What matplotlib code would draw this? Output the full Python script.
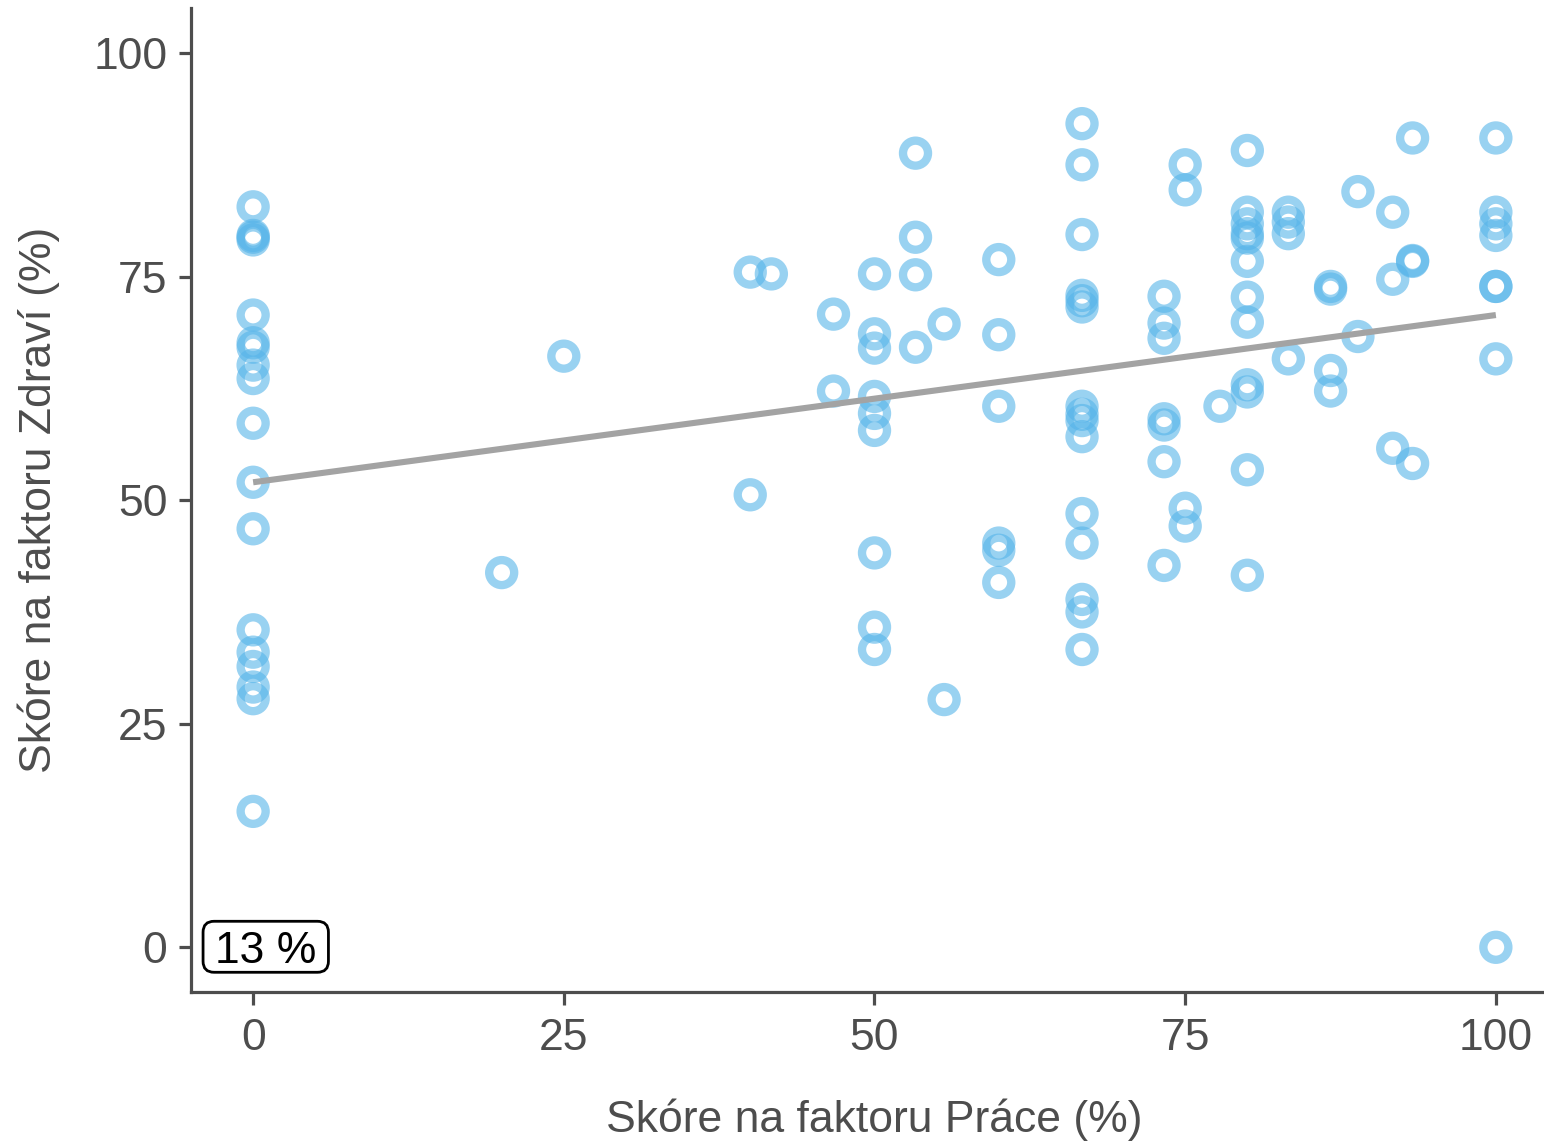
import numpy as np
import matplotlib
matplotlib.use('Agg')
import matplotlib.pyplot as plt
from matplotlib.patches import FancyBboxPatch
from matplotlib.transforms import IdentityTransform

plt.rcParams['font.family'] = ['Liberation Sans', 'DejaVu Sans']

# score pairs, grouped by Práce value
prace_levels = [0, 20, 25, 40, 41.7, 46.7, 50, 53.3, 55.6, 60, 66.7, 73.3, 75, 77.8,
                80, 83.3, 86.7, 88.9, 91.7, 93.3, 100]
zdravi_groups = [
    [82.8, 79.6, 79.1, 79.4, 70.7, 67.6, 67.1, 65.1, 63.6, 58.6, 52.0, 46.8, 35.5, 33.0,
     31.4, 29.1, 27.8, 15.2],
    [41.9],
    [66.1],
    [75.5, 50.6],
    [75.3],
    [70.8, 62.2],
    [75.3, 68.6, 67.0, 61.6, 59.7, 57.8, 44.1, 35.8, 33.3],
    [88.8, 79.4, 75.2, 67.1],
    [69.7, 27.7],
    [76.9, 68.5, 60.5, 45.2, 44.4, 40.8],
    [92.1, 87.5, 79.7, 72.9, 72.3, 71.6, 60.5, 59.6, 58.9, 57.1, 48.5, 45.2, 38.9, 37.5, 33.3],
    [72.8, 69.8, 68.1, 59.1, 58.4, 54.3, 42.7],
    [87.5, 84.7, 49.1, 47.1],
    [60.5],
    [89.1, 82.2, 80.9, 79.8, 79.3, 76.7, 72.7, 69.9, 62.9, 62.1, 53.4, 41.6],
    [82.2, 81.1, 79.8, 65.8],
    [73.9, 73.6, 64.5, 62.2],
    [84.5, 68.3],
    [82.2, 74.7, 55.8],
    [90.5, 76.8, 76.7, 54.1],
    [90.5, 82.2, 80.9, 79.6, 73.9, 73.9, 65.8, 0.0],
]
# linear trend as drawn in the chart (end points)
trend_x = [0, 100]
trend_y = [52.0, 70.7]
ticks = [0, 25, 50, 75, 100]
annotation = "13 %"

prace = np.concatenate([[lvl] * len(g) for lvl, g in zip(prace_levels, zdravi_groups)])
zdravi = np.concatenate(zdravi_groups)

grey = '#4d4d4d'
fig = plt.figure(figsize=(15.44, 11.42), dpi=100)
ax = fig.add_axes([191 / 1544, 150 / 1142, 1367 / 1544, 983.7 / 1142])

ax.scatter(prace, zdravi, s=18 ** 2, facecolors='none', edgecolors='#56B4E9',
           linewidths=6.0, alpha=0.6, zorder=2)

ax.plot(trend_x, trend_y, color='#a3a3a3', lw=4.4, zorder=3, solid_capstyle='butt')

ax.set_xlim(-5, 105)
ax.set_ylim(-5, 105)
ax.set_xticks(ticks)
ax.set_yticks(ticks)

for side in ['top', 'right']:
    ax.spines[side].set_visible(False)
for side in ['left', 'bottom']:
    ax.spines[side].set_color(grey)
    ax.spines[side].set_linewidth(2.3)
ax.tick_params(axis='both', colors=grey, labelcolor=grey, length=9, width=2.3,
               labelsize=32)
ax.tick_params(axis='x', pad=10)
ax.tick_params(axis='y', pad=8)

ax.set_xlabel('Skóre na faktoru Práce (%)', fontsize=32, color=grey, labelpad=28)
ax.set_ylabel('Skóre na faktoru Zdraví (%)', fontsize=32, color=grey, labelpad=24)

# label in the lower-left corner, box drawn around the glyphs with wider side padding
label = ax.text(0.0176, 0.0, annotation, transform=ax.get_yaxis_transform(),
                fontsize=32, color='black', ha='left', va='center_baseline', zorder=6)
fig.canvas.draw()
bb = label.get_window_extent(renderer=fig.canvas.get_renderer())
pad_x, pad_top, pad_bottom = 12, 10, 0
box = FancyBboxPatch((bb.x0 - pad_x, bb.y0 - pad_bottom),
                     bb.width + 2 * pad_x, bb.height + pad_top + pad_bottom,
                     boxstyle='round,pad=0,rounding_size=11', transform=IdentityTransform(),
                     fc='white', ec='black', lw=2, zorder=5, clip_on=False)
ax.add_artist(box)

fig.savefig('out.png', dpi=100)
